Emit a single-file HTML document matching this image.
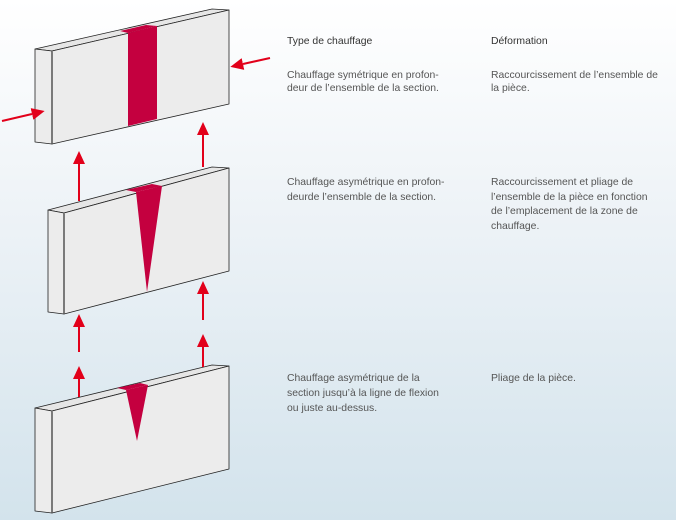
<!DOCTYPE html>
<html><head><meta charset="utf-8"><style>
html,body{margin:0;padding:0;}
body{width:676px;height:520px;overflow:hidden;background:linear-gradient(#ffffff 0%,#eef3f7 40%,#d3e3ec 100%);}
svg{display:block}
text{font-family:"Liberation Sans",sans-serif;font-size:10.4px;fill:#555;}
</style></head><body>
<svg width="676" height="520" viewBox="0 0 676 520">
<defs>
<marker id="ah" markerWidth="13" markerHeight="12" refX="0" refY="6" orient="auto" markerUnits="userSpaceOnUse">
<path d="M0,0 L13,6 L0,12 Z" fill="#e2001a"/>
</marker>
</defs>
<g stroke="#222" stroke-width="0.8" stroke-linejoin="round">
<polygon points="35,49 212,9 229,10 52,51" fill="#e6e6e6"/>
<polygon points="35,49 52,51 52,144 35,142" fill="#ececec"/>
<polygon points="52,51 229,10 229,104 52,144" fill="#ececec"/>
<polygon points="48,210 212,167 229,168 64,213" fill="#e6e6e6"/>
<polygon points="48,210 64,213 64,314 48,312" fill="#ececec"/>
<polygon points="64,213 229,168 229,271 64,314" fill="#ececec"/>
<polygon points="35,408 212,365 229,366 52,411" fill="#e6e6e6"/>
<polygon points="35,408 52,411 52,513 35,511" fill="#ececec"/>
<polygon points="52,411 229,366 229,469 52,513" fill="#ececec"/>
</g>
<g fill="#c4003f">
<polygon points="120,31 146,25 157,26 128,33"/>
<polygon points="128,33 157,26 157,119 128,126"/>
<polygon points="126,190 152,184 162,186 136,192"/>
<polygon points="136,192 162,186 147,292"/>
<polygon points="117,388 140,383 148,385 126,390"/>
<polygon points="126,390 148,385 137,441"/>
</g>
<g stroke="#555" stroke-width="1.5">
<line x1="52" y1="52" x2="52" y2="144"/>
<line x1="64" y1="214" x2="64" y2="314"/>
<line x1="52" y1="412" x2="52" y2="513"/>
</g>
<g stroke="#e2001a" stroke-width="2" fill="none">
<line x1="2" y1="121" x2="32" y2="114" marker-end="url(#ah)"/>
<line x1="270" y1="58" x2="243" y2="64" marker-end="url(#ah)"/>
<line x1="79" y1="201" x2="79" y2="164" marker-end="url(#ah)"/>
<line x1="203" y1="167" x2="203" y2="135" marker-end="url(#ah)"/>
<line x1="79" y1="352" x2="79" y2="327" marker-end="url(#ah)"/>
<line x1="79" y1="397" x2="79" y2="379" marker-end="url(#ah)"/>
<line x1="203" y1="320" x2="203" y2="294" marker-end="url(#ah)"/>
<line x1="203" y1="367" x2="203" y2="347" marker-end="url(#ah)"/>
</g>
<text x="287" y="44" style="fill:#333">Type de chauffage</text>
<text x="491" y="44" style="fill:#333">Déformation</text>
<text x="287" y="78">Chauffage symétrique en profon-</text>
<text x="287" y="91">deur de l’ensemble de la section.</text>
<text x="491" y="78">Raccourcissement de l’ensemble de</text>
<text x="491" y="91">la pièce.</text>
<text x="287" y="185">Chauffage asymétrique en profon-</text>
<text x="287" y="200">deurde l’ensemble de la section.</text>
<text x="491" y="185">Raccourcissement et pliage de</text>
<text x="491" y="200">l’ensemble de la pièce en fonction</text>
<text x="491" y="214">de l’emplacement de la zone de</text>
<text x="491" y="229">chauffage.</text>
<text x="287" y="381">Chauffage asymétrique de la</text>
<text x="287" y="396">section jusqu’à la ligne de flexion</text>
<text x="287" y="411">ou juste au-dessus.</text>
<text x="491" y="381">Pliage de la pièce.</text>
</svg>
</body></html>
